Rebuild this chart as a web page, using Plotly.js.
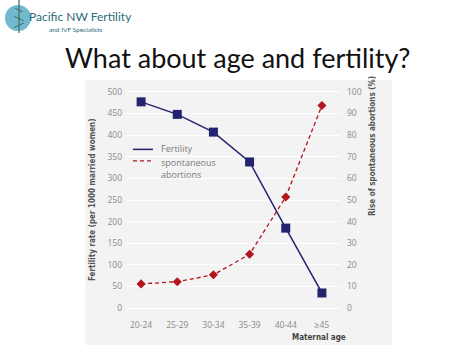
<!DOCTYPE html>
<html><head><meta charset="utf-8">
<script src="https://cdn.plot.ly/plotly-3.0.1.min.js"></script>
<style>html,body{margin:0;padding:0;background:#fff;}#c{width:474px;height:355px;}</style>
</head><body><div id="c"></div>
<script>
const ageGroups = ['20-24','25-29','30-34','35-39','40-44','≥45'];
const fertilityRate = [477, 448, 407, 338, 185, 35];
const abortionRise = [11.2, 12.2, 15.4, 24.9, 51.4, 93.7];
const leftTicks = [0,50,100,150,200,250,300,350,400,450,500];
const rightTicks = [0,10,20,30,40,50,60,70,80,90,100];

const tickFont = {family:'Open Sans, DejaVu Sans, sans-serif', size:8.5, color:'#8a8a8a'};

const traces = [
  {x: ageGroups, y: fertilityRate, name:'Fertility', type:'scatter', mode:'lines+markers',
   line:{color:'#232370', width:1.5}, marker:{symbol:'square', size:9, color:'#232370'},
   showlegend:false},
  {x: ageGroups, y: abortionRise, name:'spontaneous<br>abortions', type:'scatter', mode:'lines+markers', yaxis:'y2',
   line:{color:'#b3141e', width:1.3, dash:'4px,3px'}, marker:{symbol:'diamond', size:7, color:'#b3141e'},
   showlegend:false}
];

const layout = {
  width:474, height:355,
  paper_bgcolor:'#ffffff', plot_bgcolor:'#e6e6e6',
  margin:{l:127, r:134, t:88, b:43},
  showlegend:false,
  xaxis:{type:'category', range:[-0.39,5.5], showgrid:false, zeroline:false, showline:false,
         ticks:'', tickfont:tickFont, ticklabelstandoff:6},
  yaxis:{range:[-9,509], tickvals:leftTicks, gridcolor:'#ffffff', gridwidth:1, zeroline:false,
         showline:false, ticks:'', tickfont:tickFont, ticklabelstandoff:4},
  yaxis2:{range:[-1.8,101.8], overlaying:'y', side:'right', tickvals:rightTicks, showgrid:false,
          zeroline:false, showline:false, ticks:'', tickfont:tickFont, ticklabelstandoff:6},
  shapes:[
    {type:'rect', xref:'paper', yref:'paper', x0:-0.197, x1:1.244, y0:-0.147, y1:1.036, fillcolor:'#f3f3f3', line:{width:0}, layer:'below'},
    {type:'circle', xref:'paper', yref:'paper', x0:-0.573, x1:-0.451, y0:1.254, y1:1.371, fillcolor:'#72b9cf', line:{width:0}, layer:'below'},
    {type:'line', xref:'paper', yref:'paper', x0:-0.507, x1:-0.507, y0:1.246, y1:1.393, line:{color:'#3d6e5e', width:1.2}},
    {type:'line', xref:'paper', yref:'paper', x0:-0.53, x1:-0.485, y0:1.27, y1:1.29, line:{color:'#3d6e5e', width:1}},
    {type:'line', xref:'paper', yref:'paper', x0:-0.53, x1:-0.485, y0:1.32, y1:1.30, line:{color:'#3d6e5e', width:1}},
    {type:'line', xref:'paper', yref:'paper', x0:-0.525, x1:-0.49, y0:1.355, y1:1.34, line:{color:'#3d6e5e', width:1}},
    {type:'line', xref:'paper', yref:'paper', x0:0.028, x1:0.122, y0:0.726, y1:0.726, line:{color:'#232370', width:1.5}},
    {type:'line', xref:'paper', yref:'paper', x0:0.028, x1:0.122, y0:0.675, y1:0.675, line:{color:'#b3141e', width:1.3, dash:'4px,3px'}}
  ],
  annotations:[
    {text:'What about age and fertility?', xref:'paper', yref:'paper', x:0.521, y:1.138, xanchor:'center', yanchor:'middle', showarrow:false,
     font:{family:'Lato, Open Sans, sans-serif', size:27, color:'#111111'}},
    {text:'Pacific NW Fertility', xref:'paper', yref:'paper', x:-0.469, y:1.321, xanchor:'left', yanchor:'middle', showarrow:false,
     font:{family:'Lato, sans-serif', size:12, color:'#2a6a78'}},
    {text:'and IVF Specialists', xref:'paper', yref:'paper', x:-0.376, y:1.259, xanchor:'left', yanchor:'middle', showarrow:false,
     font:{family:'Lato, sans-serif', size:6.5, color:'#2a6a78'}},
    {text:'Fertility rate (per 1000 married women)', xref:'paper', yref:'paper', x:-0.164, y:0.5, xanchor:'center', yanchor:'middle', textangle:-90, showarrow:false,
     font:{family:'Liberation Sans Narrow, DejaVu Sans Condensed, sans-serif', size:8, color:'#555555', weight:'bold'}},
    {text:'Rise of spontaneous abortions (%)', xref:'paper', yref:'paper', x:1.15, y:0.741, xanchor:'center', yanchor:'middle', textangle:-90, showarrow:false,
     font:{family:'Liberation Sans Narrow, DejaVu Sans Condensed, sans-serif', size:8, color:'#555555', weight:'bold'}},
    {text:'Maternal age', xref:'paper', yref:'paper', x:1.038, y:-0.116, xanchor:'right', yanchor:'middle', showarrow:false,
     font:{family:'DejaVu Sans Condensed, sans-serif', size:8, color:'#444444', weight:'bold'}},
    {text:'Fertility', xref:'paper', yref:'paper', x:0.15, y:0.731, xanchor:'left', yanchor:'middle', showarrow:false,
     font:{family:'Open Sans, sans-serif', size:9, color:'#7a7a7a'}},
    {text:'spontaneous<br>abortions', xref:'paper', yref:'paper', x:0.15, y:0.642, xanchor:'left', yanchor:'middle', align:'left', showarrow:false,
     font:{family:'Open Sans, sans-serif', size:9, color:'#7a7a7a'}}
  ]
};
Plotly.newPlot('c', traces, layout, {displayModeBar:false, staticPlot:true});
</script></body></html>
